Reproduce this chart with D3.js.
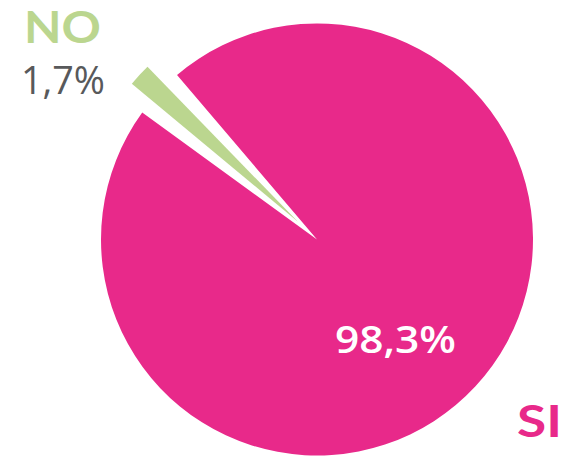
<!DOCTYPE html>
<html>
<head>
<meta charset="utf-8">
<script src="https://cdn.jsdelivr.net/npm/d3@7"></script>
<style>
  html, body { margin: 0; padding: 0; background: #ffffff; }
  svg { display: block; }
</style>
</head>
<body>
<svg id="chart" width="566" height="457"></svg>
<script>
// ---- data ----
const categories = ["SI", "NO"];
const values = [98.3, 1.7];
const valueLabels = ["98,3%", "1,7%"];

// ---- style ----
const colors = { SI: "#E8298A", NO: "#BBD68F" };
const cx = 317, cy = 239.5, R = 216;
const explode = 26;
const gapPad = 7.5 * Math.PI / 180;
const startDeg = -44.14;

const svg = d3.select("#chart");
const g = svg.append("g").attr("transform", `translate(${cx},${cy})`);

const data = categories.map((c, i) => ({ cat: c, value: values[i], label: valueLabels[i] }));

const pie = d3.pie()
  .sort(null)
  .value(d => d.value)
  .startAngle(startDeg * Math.PI / 180)
  .endAngle(startDeg * Math.PI / 180 + 2 * Math.PI);

const arcs = pie(data);

const arcMain = d3.arc().innerRadius(0).outerRadius(R).padAngle(gapPad);
const arcSmall = d3.arc().innerRadius(0).outerRadius(R);

arcs.forEach(a => {
  if (a.data.cat === "SI") {
    g.append("path")
      .attr("d", arcMain(a))
      .attr("fill", colors.SI);
  } else {
    const mid = (a.startAngle + a.endAngle) / 2;
    const dx = explode * Math.sin(mid), dy = -explode * Math.cos(mid);
    g.append("path")
      .attr("d", arcSmall(a))
      .attr("transform", `translate(${dx},${dy})`)
      .attr("fill", colors.NO);
  }
});

// ---- labels ----
const numFont = "'Open Sans', sans-serif";
const catFont = "Lato, sans-serif";
const siArc = arcs.find(a => a.data.cat === "SI");
const noArc = arcs.find(a => a.data.cat === "NO");

svg.append("text")
  .attr("x", 24).attr("y", 43)
  .attr("font-family", catFont).attr("font-weight", 700)
  .attr("font-size", 43)
  .attr("textLength", 77).attr("lengthAdjust", "spacingAndGlyphs")
  .attr("fill", colors.NO)
  .text(noArc.data.cat);

svg.append("text")
  .attr("x", 21).attr("y", 94)
  .attr("font-family", numFont).attr("font-weight", 400)
  .attr("font-size", 37.5)
  .attr("textLength", 84).attr("lengthAdjust", "spacingAndGlyphs")
  .attr("fill", "#58595B")
  .text(noArc.data.label);

svg.append("text")
  .attr("x", 335).attr("y", 353)
  .attr("font-family", numFont).attr("font-weight", 600)
  .attr("font-size", 37.5)
  .attr("textLength", 121).attr("lengthAdjust", "spacingAndGlyphs")
  .attr("fill", "#ffffff")
  .text(siArc.data.label);

svg.append("text")
  .attr("x", 517).attr("y", 437)
  .attr("font-family", catFont).attr("font-weight", 700)
  .attr("font-size", 43)
  .attr("textLength", 45).attr("lengthAdjust", "spacingAndGlyphs")
  .attr("fill", colors.SI)
  .text(siArc.data.cat);
</script>
</body>
</html>
